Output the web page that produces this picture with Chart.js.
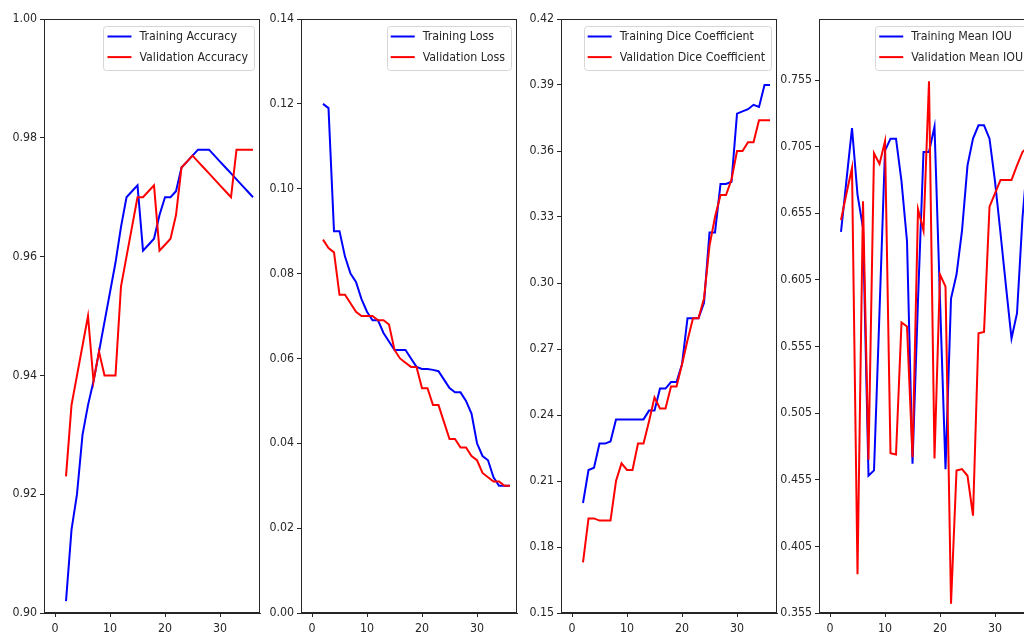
<!DOCTYPE html>
<html>
<head>
<meta charset="utf-8">
<script src="https://cdn.jsdelivr.net/npm/chart.js@4.4.1/dist/chart.umd.min.js"></script>
<style>
  html, body { margin: 0; padding: 0; background: #fff; width: 1024px; height: 632px; overflow: hidden; }
  .panel { position: absolute; top: 0; }
  canvas { display: block; }
</style>
</head>
<body>
<div class="panel" id="p0"><canvas id="c0" width="282" height="632"></canvas></div>
<div class="panel" id="p1"><canvas id="c1" width="282" height="632"></canvas></div>
<div class="panel" id="p2"><canvas id="c2" width="282" height="632"></canvas></div>
<div class="panel" id="p3"><canvas id="c3" width="282" height="632"></canvas></div>
<script>
// Training history, one value per epoch
const epochs = [2, 3, 4, 5, 6, 7, 8, 9, 10, 11, 12, 13, 14, 15, 16, 17, 18, 19,
                20, 21, 22, 23, 24, 25, 26, 27, 28, 29, 30, 31, 32, 33, 34, 35, 36];

const trainAcc = [0.902, 0.914, 0.920, 0.930, 0.935, 0.939, 0.944, 0.949, 0.954, 0.959, 0.965, 0.970,
                  0.971, 0.972, 0.961, 0.962, 0.963, 0.967, 0.970, 0.970, 0.971, 0.975, 0.976, 0.977,
                  0.978, 0.978, 0.978, 0.977, 0.976, 0.975, 0.974, 0.973, 0.972, 0.971, 0.970];
const valAcc = [0.923, 0.935, 0.940, 0.945, 0.950, 0.939, 0.944, 0.940, 0.940, 0.940, 0.955, 0.960,
                0.965, 0.970, 0.970, 0.971, 0.972, 0.961, 0.962, 0.963, 0.967, 0.975, 0.976, 0.977,
                0.976, 0.975, 0.974, 0.973, 0.972, 0.971, 0.970, 0.978, 0.978, 0.978, 0.978];

const trainLoss = [0.120, 0.119, 0.090, 0.090, 0.084, 0.080, 0.078, 0.074, 0.071, 0.069, 0.069, 0.066,
                   0.064, 0.062, 0.062, 0.062, 0.060, 0.058, 0.0575, 0.0575, 0.0573, 0.057, 0.055, 0.053,
                   0.052, 0.052, 0.050, 0.047, 0.040, 0.037, 0.036, 0.032, 0.030, 0.030, 0.030];
const valLoss = [0.088, 0.086, 0.085, 0.075, 0.075, 0.073, 0.071, 0.070, 0.070, 0.070, 0.069, 0.069,
                 0.068, 0.062, 0.060, 0.059, 0.058, 0.058, 0.053, 0.053, 0.049, 0.049, 0.045, 0.041,
                 0.041, 0.039, 0.039, 0.037, 0.036, 0.033, 0.032, 0.031, 0.031, 0.030, 0.030];

const trainDice = [0.200, 0.215, 0.216, 0.227, 0.227, 0.228, 0.238, 0.238, 0.238, 0.238, 0.238, 0.238,
                   0.242, 0.242, 0.252, 0.252, 0.255, 0.255, 0.263, 0.284, 0.284, 0.284, 0.291, 0.323,
                   0.323, 0.345, 0.345, 0.346, 0.377, 0.378, 0.379, 0.381, 0.380, 0.390, 0.390];
const valDice = [0.173, 0.193, 0.193, 0.192, 0.192, 0.192, 0.210, 0.218, 0.215, 0.215, 0.227, 0.227,
                 0.237, 0.248, 0.243, 0.243, 0.253, 0.253, 0.263, 0.274, 0.284, 0.284, 0.293, 0.317,
                 0.330, 0.340, 0.340, 0.347, 0.360, 0.360, 0.364, 0.364, 0.374, 0.374, 0.374];

const trainIou = [0.641, 0.680, 0.719, 0.669, 0.644, 0.458, 0.462, 0.581, 0.702, 0.711, 0.711, 0.679,
                  0.634, 0.467, 0.590, 0.701, 0.701, 0.720, 0.590, 0.463, 0.591, 0.609, 0.642, 0.691,
                  0.711, 0.721, 0.721, 0.711, 0.679, 0.640, 0.600, 0.561, 0.580, 0.652, 0.700];
const valIou = [0.650, 0.670, 0.689, 0.384, 0.664, 0.470, 0.700, 0.692, 0.709, 0.475, 0.474, 0.573,
                0.570, 0.472, 0.658, 0.642, 0.754, 0.471, 0.609, 0.600, 0.362, 0.462, 0.463, 0.458,
                0.428, 0.565, 0.566, 0.660, 0.670, 0.680, 0.680, 0.680, 0.691, 0.701, 0.705];

// Axis tick positions
const epochTicks = [0, 10, 20, 30];
const accTicks = [0.90, 0.92, 0.94, 0.96, 0.98, 1.00];
const lossTicks = [0.00, 0.02, 0.04, 0.06, 0.08, 0.10, 0.12, 0.14];
const diceTicks = [0.15, 0.18, 0.21, 0.24, 0.27, 0.30, 0.33, 0.36, 0.39, 0.42];
const iouTicks = [0.355, 0.405, 0.455, 0.505, 0.555, 0.605, 0.655, 0.705, 0.755];

const FONT_FAMILY = "'DejaVu Sans Condensed', 'DejaVu Sans', sans-serif";
const FONT_SIZE = 12.3;
const INK = '#262626';
const AXIS_W = 60;       // room reserved for y tick labels
const PLOT_TOP = 19;
const PLOT_BOTTOM = 613;

const panels = [
  { left: 44,  names: ['Training Accuracy', 'Validation Accuracy'], train: trainAcc, val: valAcc,
    yMin: 0.90, yMax: 1.00, ticks: accTicks, decimals: 2 },
  { left: 301, names: ['Training Loss', 'Validation Loss'], train: trainLoss, val: valLoss,
    yMin: 0.00, yMax: 0.14, ticks: lossTicks, decimals: 2 },
  { left: 561, names: ['Training Dice Coefficient', 'Validation Dice Coefficient'], train: trainDice, val: valDice,
    yMin: 0.15, yMax: 0.42, ticks: diceTicks, decimals: 2 },
  { left: 819, names: ['Training Mean IOU', 'Validation Mean IOU'], train: trainIou, val: valIou,
    yMin: 0.355, yMax: 0.8008, ticks: iouTicks, decimals: 3 }
];

// Frame around the plotting box plus a boxed legend in its upper-right corner
const frameAndLegend = {
  id: 'frameAndLegend',
  afterDatasetsDraw(chart) {
    const { ctx, chartArea: a } = chart;
    ctx.save();
    ctx.strokeStyle = INK;
    ctx.lineWidth = 1;
    ctx.strokeRect(Math.round(a.left) + 0.5, Math.round(a.top) + 0.5,
                   Math.round(a.right - a.left) - 1, Math.round(a.bottom - a.top) - 1);

    const ds = chart.data.datasets;
    ctx.font = FONT_SIZE + 'px ' + FONT_FAMILY;
    const textW = Math.max(...ds.map(d => ctx.measureText(d.label).width));
    const w = 4 + 24 + 8 + textW + 6;
    const h = 43.5;
    const x = a.right - 6 - w;
    const y = a.top + 6.5;
    ctx.beginPath();
    ctx.roundRect(Math.round(x) + 0.5, Math.round(y) + 0.5, Math.round(w), Math.round(h), 3);
    ctx.fillStyle = 'rgba(255,255,255,0.8)';
    ctx.fill();
    ctx.strokeStyle = '#d6d6d6';
    ctx.stroke();

    ds.forEach((d, i) => {
      const cy = y + 11 + i * 20.6;
      ctx.beginPath();
      ctx.moveTo(x + 4, cy);
      ctx.lineTo(x + 28, cy);
      ctx.strokeStyle = d.borderColor;
      ctx.lineWidth = 2;
      ctx.stroke();
      ctx.fillStyle = INK;
      ctx.textBaseline = 'middle';
      ctx.textAlign = 'left';
      ctx.fillText(d.label, x + 36, cy + 0.5);
    });
    ctx.restore();
  }
};

const tickFont = { family: FONT_FAMILY, size: FONT_SIZE };

panels.forEach((p, i) => {
  const holder = document.getElementById('p' + i);
  holder.style.left = (p.left - AXIS_W) + 'px';
  const canvas = document.getElementById('c' + i);

  new Chart(canvas, {
    type: 'line',
    data: {
      labels: epochs,
      datasets: [
        { label: p.names[0], data: epochs.map((e, k) => ({ x: e, y: p.train[k] })),
          borderColor: '#0000ff', borderWidth: 2, pointRadius: 0, tension: 0, order: 1 },
        { label: p.names[1], data: epochs.map((e, k) => ({ x: e, y: p.val[k] })),
          borderColor: '#ff0000', borderWidth: 2, pointRadius: 0, tension: 0, order: 0 }
      ]
    },
    options: {
      responsive: false,
      animation: false,
      devicePixelRatio: 1,
      layout: { padding: { top: PLOT_TOP, right: 6, left: 0, bottom: 0 } },
      plugins: { legend: { display: false }, tooltip: { enabled: false } },
      scales: {
        x: {
          type: 'linear', min: -2.0, max: 37.27,
          afterBuildTicks: s => { s.ticks = epochTicks.map(v => ({ value: v })); },
          afterFit: s => { s.height = 632 - PLOT_BOTTOM; },
          grid: { drawOnChartArea: false, drawTicks: true, tickLength: 4, color: INK },
          border: { color: INK },
          ticks: { color: INK, font: tickFont, padding: 4, maxRotation: 0, autoSkip: false,
                   callback: v => String(v) }
        },
        y: {
          type: 'linear', min: p.yMin, max: p.yMax,
          afterBuildTicks: s => { s.ticks = p.ticks.map(v => ({ value: v })); },
          afterFit: s => { s.width = AXIS_W; },
          grid: { drawOnChartArea: false, drawTicks: true, tickLength: 4, color: INK },
          border: { color: INK },
          ticks: { color: INK, font: tickFont, padding: 3, autoSkip: false,
                   callback: v => Number(v).toFixed(p.decimals) }
        }
      }
    },
    plugins: [frameAndLegend]
  });
});
</script>
</body>
</html>
